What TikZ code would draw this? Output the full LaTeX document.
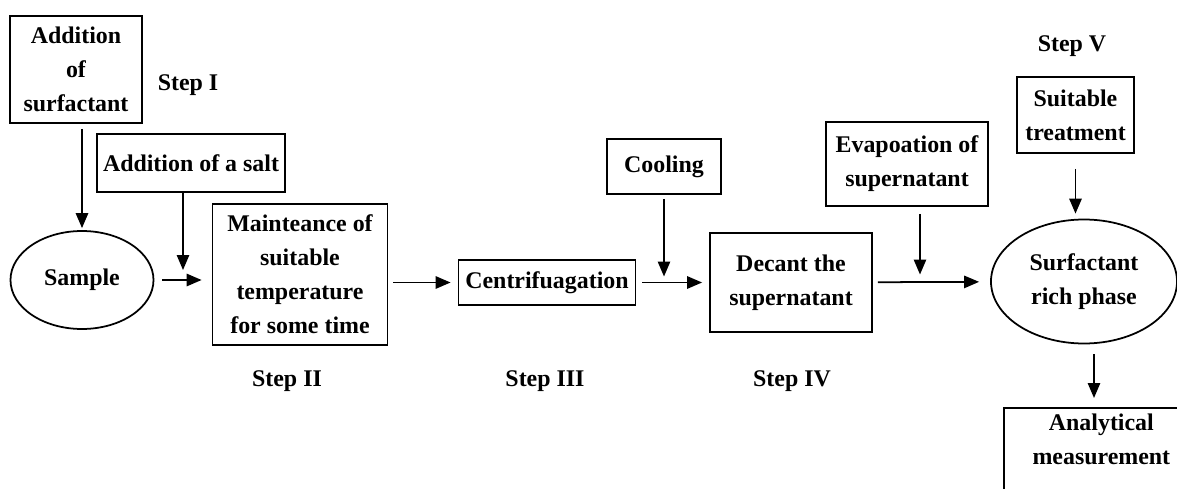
\documentclass[tikz,border=0pt]{standalone}
\usepackage{fontspec}
\setmainfont{Liberation Serif}
\usepackage{tikz}
\usetikzlibrary{shapes,arrows.meta,calc}
\newcommand{\stepfont}{\fontsize{13.6}{19.3}\selectfont\bfseries}
\tikzstyle{block} = [draw, rectangle, line width=1pt, align=center, font=\stepfont]
\tikzstyle{phase} = [draw, ellipse, line width=1pt, align=center, inner sep=0pt, font=\stepfont]
\tikzstyle{steptag} = [font=\stepfont]

\begin{document}
\begin{tikzpicture}[>={Triangle[length=8.5pt,width=7pt]}, line width=1pt]
\useasboundingbox (-1.64,5.6) rectangle (21.9,-4.18);

%% Step I %%
\node [phase, minimum width=2.86cm, minimum height=1.96cm] (Sample) at (0,0) {Sample};

\node [block, minimum width=2.64cm, minimum height=2.14cm] (AddSurfactant) at ($(Sample)+(-0.12,4.21)$) {Addition\\of\\surfactant};

\node [steptag] (StepI) at ($(AddSurfactant)+(2.24,-0.31)$) {Step I};

\node [block, minimum width=3.76cm, minimum height=1.16cm] (AddSalt) at ($(Sample)+(2.18,2.34)$) {Addition of a salt};

%% Step II %%
\node [block, minimum width=3.5cm, minimum height=2.82cm] (Maintain) at ($(Sample)+(4.36,0.11)$) {Mainteance of\\suitable\\temperature\\for some time};

\node [steptag] (StepII) at ($(Maintain)+(-0.26,-2.13)$) {Step II};

%% Step III %%
\node [block, minimum width=3.54cm, minimum height=0.9cm] (Centrifugation) at ($(Maintain)+(4.94,-0.16)$) {Centrifuagation};

\node [steptag] (StepIII) at ($(Centrifugation)+(-0.04,-1.97)$) {Step III};

\node [block, minimum width=2.28cm, minimum height=1.1cm] (Cooling) at ($(Centrifugation)+(2.34,2.32)$) {Cooling};

%% Step IV %%
\node [block, minimum width=3.24cm, minimum height=1.98cm] (Decant) at ($(Centrifugation)+(4.88,0)$) {Decant the\\supernatant};

\node [steptag] (StepIV) at ($(Decant)+(0.02,-1.97)$) {Step IV};

\node [block, minimum width=3.24cm, minimum height=1.68cm] (Evaporation) at ($(Decant)+(2.32,2.37)$) {Evapoation of\\supernatant};

%% Step V %%
\node [phase, minimum width=3.72cm, minimum height=2.48cm] (RichPhase) at ($(Decant)+(5.86,0.02)$) {Surfactant\\rich phase};

\node [block, minimum width=2.34cm, minimum height=1.52cm] (Treatment) at ($(RichPhase)+(-0.17,3.33)$) {Suitable\\treatment};

\node [steptag] (StepV) at ($(Treatment)+(-0.07,1.38)$) {Step V};

\node [block, anchor=north west, minimum width=3.9cm] (Analytical) at ($(RichPhase)+(-1.62,-2.51)$) {Analytical\\measurement\\\vphantom{A}};

%% Arrows %%
\coordinate (SaltIn) at ($(Sample.east)!0.5!(Sample.east -| Maintain.west)+(0,0.2)$);
\coordinate (CoolIn) at ($(Cooling.south |- Centrifugation)+(0,0.12)$);
\coordinate (EvapIn) at ($(Evaporation.south |- Decant)+(0.26,0.16)$);

\draw[->, shorten <=0.1cm, shorten >=0.04cm] (AddSurfactant.south -| Sample.north) -- (Sample.north);
\draw[->] (AddSalt.south -| SaltIn) -- (SaltIn);
\draw[->, shorten <=0.16cm, shorten >=0.2cm] (Sample) -- (Sample -| Maintain.west);

\draw[->, shorten <=0.1cm, shorten >=0.14cm] (Maintain.east |- Centrifugation) -- (Centrifugation);
\draw[->, shorten <=0.08cm] (Cooling) -- (CoolIn);
\draw[->, shorten <=0.12cm, shorten >=0.14cm] (Centrifugation) -- (Decant);

\draw[->, shorten <=0.14cm] (Evaporation.south -| EvapIn) -- (EvapIn);
\draw[->, shorten <=0.1cm, shorten >=0.22cm] (Decant) -- (RichPhase);

\draw[->, shorten <=0.3cm, shorten >=0.1cm] (Treatment.south) -- (Treatment.south |- RichPhase.north);
\draw[->, shorten <=0.2cm, shorten >=0.18cm] ([xshift=0.2cm]RichPhase.south) -- ([xshift=0.2cm]RichPhase.south |- Analytical.north);
\end{tikzpicture}
\end{document}
